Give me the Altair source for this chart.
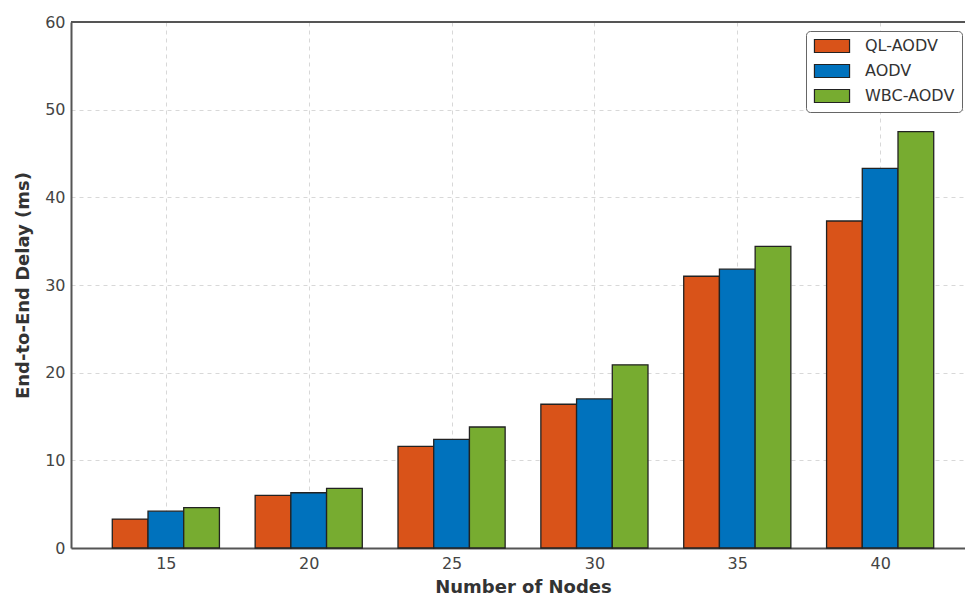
import altair as alt
import pandas as pd

# Average end-to-end delay per routing protocol and network size
nodes = [15, 20, 25, 30, 35, 40]
protocols = ["QL-AODV", "AODV", "WBC-AODV"]
ql_aodv = [3.3, 6.0, 11.6, 16.4, 31.0, 37.3]
aodv = [4.2, 6.3, 12.4, 17.0, 31.8, 43.3]
wbc_aodv = [4.6, 6.8, 13.8, 20.9, 34.4, 47.5]
colors = ["#D95319", "#0072BD", "#77AC30"]

series = {"QL-AODV": ql_aodv, "AODV": aodv, "WBC-AODV": wbc_aodv}
rows = []
for i, p in enumerate(protocols):
    for n, v in zip(nodes, series[p]):
        rows.append({"nodes": n, "protocol": p, "idx": i, "delay": v})
df = pd.DataFrame(rows)

W, H = 894, 526
BAR = 1.25  # bar width in node units
xdom = [11.68, 42.97]

xscale = alt.Scale(domain=xdom, nice=False, zero=False)
yscale = alt.Scale(domain=[0, 60], nice=False)

bars = (
    alt.Chart(df)
    .transform_calculate(
        x0=f"datum.nodes + (datum.idx - 1) * {BAR} - {BAR / 2}",
        x1=f"datum.nodes + (datum.idx - 1) * {BAR} + {BAR / 2}",
    )
    .mark_bar(stroke="#222222", strokeWidth=1.3, opacity=1)
    .encode(
        x=alt.X(
            "x0:Q",
            scale=xscale,
            axis=alt.Axis(
                values=nodes,
                title="Number of Nodes",
                titleX=452,
                titleY=30,
                labelPadding=7,
                ticks=False,
                grid=True,
                gridDash=[4, 4],
                gridColor="#d8d8d8",
                gridWidth=1,
                domainColor="#555555",
                domainWidth=2,
            ),
        ),
        x2="x1:Q",
        y=alt.Y(
            "delay:Q",
            scale=yscale,
            axis=alt.Axis(
                values=[0, 10, 20, 30, 40, 50, 60],
                title="End-to-End Delay (ms)",
                titleX=-39,
                labelPadding=6,
                ticks=False,
                grid=True,
                gridDash=[4, 4],
                gridColor="#d8d8d8",
                gridWidth=1,
                domainColor="#555555",
                domainWidth=2,
            ),
        ),
        y2=alt.datum(0),
        color=alt.Color(
            "protocol:N",
            scale=alt.Scale(domain=protocols, range=colors),
            legend=alt.Legend(
                title=None,
                orient="none",
                legendX=735,
                legendY=9,
                symbolType="M-2.7,-1H2.7V1H-2.7Z",
                symbolSize=169,
                symbolOffset=11,
                symbolStrokeColor="#222222",
                symbolStrokeWidth=1.2,
                symbolOpacity=1,
                labelFontSize=16,
                labelColor="#333333",
                labelFont="DejaVu Sans",
                labelOffset=25,
                rowPadding=7,
                padding=7,
                strokeColor="#666666",
                fillColor="white",
                cornerRadius=4,
            ),
        ),
    )
)

top_spine = alt.Chart(pd.DataFrame({"v": [0]})).mark_rule(
    color="#555555", strokeWidth=2
).encode(x=alt.value(0), x2=alt.value(W), y=alt.value(0))

chart = (
    alt.layer(bars, top_spine)
    .properties(
        width=W,
        height=H,
        autosize=alt.AutoSizeParams(type="none"),
        padding={"left": 71, "top": 22, "right": 0, "bottom": 48},
    )
    .configure_view(stroke=None)
    .configure_axis(
        labelFont="DejaVu Sans",
        labelFontSize=16,
        labelColor="#444444",
        titleFont="DejaVu Sans",
        titleFontSize=18,
        titleFontWeight="bold",
        titleColor="#333333",
    )
)

chart.save("out.html", embed_options={"renderer": "svg", "actions": False})
